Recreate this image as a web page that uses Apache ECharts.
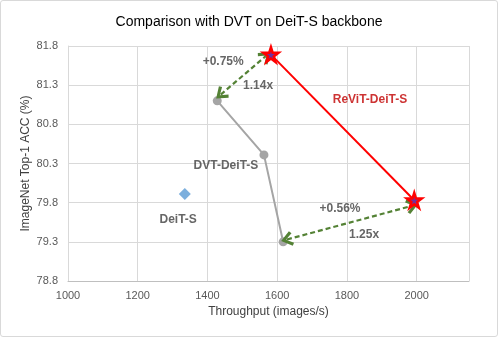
<!DOCTYPE html>
<html>
<head>
<meta charset="utf-8">
<script src="https://cdn.jsdelivr.net/npm/echarts@6/dist/echarts.min.js"></script>
<style>
  html, body { margin: 0; padding: 0; background: #fff; }
  #box { width: 498px; height: 337px; box-sizing: border-box; border: 1px solid #d9d9d9; border-radius: 3px; }
  #chart { width: 496px; height: 335px; }
</style>
</head>
<body>
<div id="box"><div id="chart"></div></div>
<script>
// 数据
var deitS = [[1335, 79.91]]
var dvtDeitS = [[1428, 81.1], [1562, 80.41], [1617, 79.3]]
var revitDeitS = [[1582, 81.69], [1993, 79.83]]
// 箭头 (起点, 终点)
var arrows = [
    [[1438, 81.18], [1567, 81.67]],
    [[1628, 79.33], [1987, 79.76]]
]
// 文字注释 [x, y, text, color]
var notes = [
    [1445, 81.6, '+0.75%', '#404040'],
    [1545, 81.29, '1.14x', '#404040'],
    [1866, 81.11, 'ReViT-DeiT-S', '#c00000'],
    [1453, 80.27, 'DVT-DeiT-S', '#404040'],
    [1316, 79.58, 'DeiT-S', '#404040'],
    [1780, 79.72, '+0.56%', '#404040'],
    [1849, 79.39, '1.25x', '#404040']
]

var chevron = 'path://M5,0 L10,7 L8.3,8.4 L5,3.4 L1.7,8.4 L0,7 Z'
var star = 'path://M50,0 L61.2,34.5 L97.6,34.5 L68.1,55.9 L79.4,90.5 L50,69.1 L20.6,90.5 L31.9,55.9 L2.4,34.5 L38.8,34.5 Z'

var theChart = echarts.init(document.getElementById('chart'))
var option = {
    animation: false,
    textStyle: { fontFamily: 'Liberation Sans, Arial, sans-serif' },
    title: {
        text: 'Comparison with DVT on DeiT-S backbone',
        left: 'center',
        top: 9,
        textStyle: { fontSize: 14, fontWeight: 'normal', color: '#000' }
    },
    grid: { left: 67, right: 28, top: 45, bottom: 55 },
    xAxis: {
        type: 'value',
        min: 1000,
        max: 2150,
        interval: 200,
        name: 'Throughput (images/s)',
        nameLocation: 'middle',
        nameGap: 24,
        nameTextStyle: { fontSize: 12, color: '#404040' },
        axisLine: { show: true, lineStyle: { color: '#bfbfbf' } },
        axisTick: { show: false },
        axisLabel: {
            fontSize: 11, color: '#595959', margin: 9,
            formatter: function (v) { return v > 2100 ? '' : v }
        },
        splitLine: { show: true, lineStyle: { color: '#d9d9d9' } }
    },
    yAxis: {
        type: 'value',
        min: 78.8,
        max: 81.8,
        interval: 0.5,
        name: 'ImageNet Top-1 ACC (%)',
        nameLocation: 'middle',
        nameGap: 36,
        nameMoveOverlap: false,
        nameTextStyle: { fontSize: 12, color: '#404040' },
        axisLine: { show: true, lineStyle: { color: '#d9d9d9' } },
        axisTick: { show: false },
        axisLabel: {
            fontSize: 11, color: '#595959', margin: 10,
            formatter: function (v) { return v.toFixed(1) }
        },
        splitLine: { show: true, lineStyle: { color: '#d9d9d9' } }
    },
    series: [
        {
            name: 'DVT-DeiT-S',
            type: 'line',
            data: dvtDeitS,
            symbol: 'circle',
            symbolSize: 9,
            lineStyle: { color: '#a5a5a5', width: 2 },
            itemStyle: { color: '#a5a5a5' },
            z: 3
        },
        {
            name: 'ReViT-DeiT-S',
            type: 'line',
            data: revitDeitS,
            symbol: star,
            symbolSize: 15,
            lineStyle: { color: '#ff0000', width: 2 },
            itemStyle: { color: '#7030a0', borderColor: '#ff0000', borderWidth: 2.5 },
            z: 5
        },
        {
            name: 'DeiT-S',
            type: 'scatter',
            data: deitS,
            symbol: 'diamond',
            symbolSize: 12,
            itemStyle: { color: '#5b9bd5' }
        },
        {
            name: 'notes',
            type: 'scatter',
            symbolSize: 0,
            silent: true,
            data: notes.map(function (n) {
                return {
                    value: [n[0], n[1]],
                    label: {
                        show: true, position: 'inside', formatter: n[2],
                        fontSize: 12, fontWeight: 'bold', color: n[3]
                    }
                }
            }),
            markLine: {
                silent: true,
                symbol: [chevron, chevron],
                symbolSize: [15, 12],
                label: { show: false },
                lineStyle: { color: '#548235', width: 2.2, type: [5, 3] },
                data: arrows.map(function (a) {
                    return [{ coord: a[0] }, { coord: a[1] }]
                })
            },
            z: 4
        }
    ]
}
theChart.setOption(option)
</script>
</body>
</html>
